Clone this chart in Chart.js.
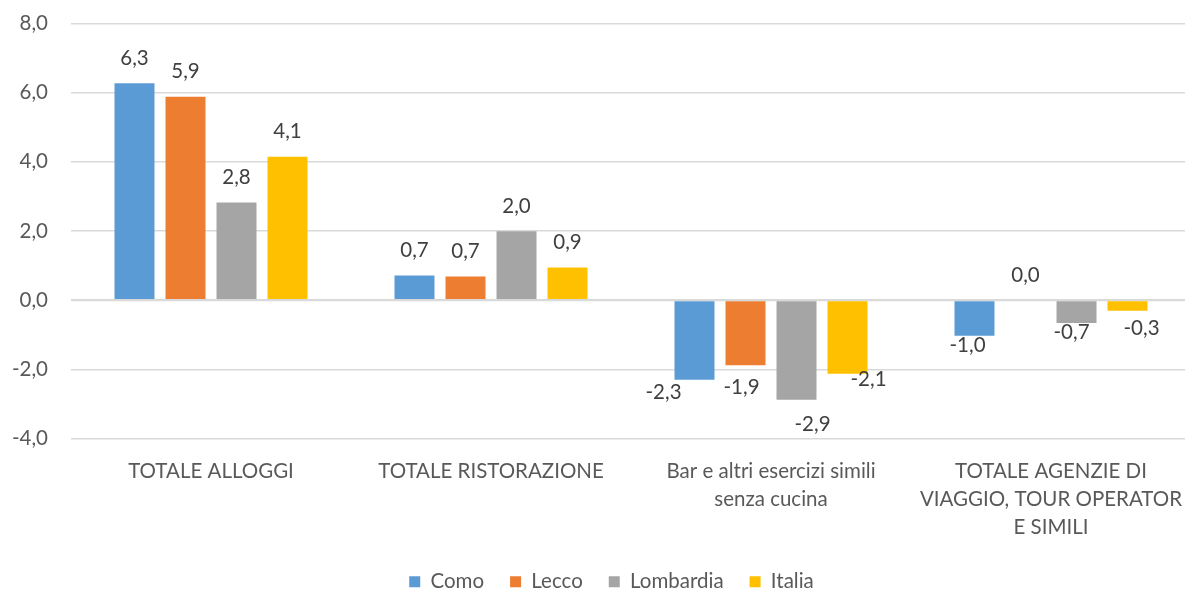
<!DOCTYPE html>
<html><head><meta charset="utf-8">
<script src="https://cdn.jsdelivr.net/npm/chart.js@4.4.1/dist/chart.umd.min.js"></script>
<style>
html,body{margin:0;padding:0;overflow:hidden;background:#fff;width:1185px;height:590px;position:relative}
#wrap{position:absolute;left:0;top:-12px;width:1222px;height:614px}
</style>
</head><body>
<div id="wrap"><canvas id="c" width="1222" height="614"></canvas></div>
<script>
const categories = [
  'TOTALE ALLOGGI',
  'TOTALE RISTORAZIONE',
  ['Bar e altri esercizi simili', 'senza cucina'],
  ['TOTALE AGENZIE DI', 'VIAGGIO, TOUR OPERATOR', 'E SIMILI']
];
const seriesNames = ['Como', 'Lecco', 'Lombardia', 'Italia'];
const como      = [6.27, 0.71, -2.30, -1.03];
const lecco     = [5.88, 0.68, -1.88, 0.00];
const lombardia = [2.82, 1.99, -2.88, -0.66];
const italia    = [4.14, 0.94, -2.13, -0.31];
const yMin = -4, yMax = 8, yStep = 2;

const colors = ['#5B9BD5', '#ED7D31', '#A5A5A5', '#FFC000'];
const FONT = 'Lato';
const FS = 20.5;
const fmt = v => v.toFixed(1).replace('.', ',');

// Excel-like label nudges (dataset,index) to avoid overlaps
const nudges = {
  '0,2': [-31, 1], '1,2': [-4, 10], '2,2': [16, 13], '3,2': [21, -6],
  '0,3': [-7, -2], '2,3': [-5, -3], '3,3': [14, 6]
};

const valueLabels = {
  id: 'valueLabels',
  afterLayout(chart) {
    // centre the legend like the original (offset from the y-axis)
    if (chart.legend) { chart.legend.left += 16; chart.legend.right += 16; }
  },
  afterDatasetsDraw(chart) {
    const ctx = chart.ctx;
    ctx.save();
    ctx.font = FS + 'px ' + FONT;
    ctx.fillStyle = '#404040';
    ctx.textAlign = 'center';
    ctx.textBaseline = 'middle';
    chart.data.datasets.forEach((ds, di) => {
      chart.getDatasetMeta(di).data.forEach((bar, i) => {
        const v = ds.data[i];
        const n = nudges[di + ',' + i] || [0, 0];
        const y = v >= 0 ? bar.y - 25 : bar.y + 12;
        ctx.fillText(fmt(v), bar.x + n[0], y + n[1]);
      });
    });
    ctx.restore();
  }
};

const seriesData = [como, lecco, lombardia, italia];
new Chart(document.getElementById('c'), {
  type: 'bar',
  data: {
    labels: categories,
    datasets: seriesNames.map((name, k) => ({
      label: name,
      data: seriesData[k],
      backgroundColor: colors[k],
      borderWidth: 0,
      barPercentage: 0.784,
      categoryPercentage: 0.7286
    }))
  },
  options: {
    responsive: false,
    animation: false,
    devicePixelRatio: 1,
    layout: { padding: { left: 0, right: 31, top: 10, bottom: 0 } },
    plugins: {
      tooltip: { enabled: false },
      legend: {
        position: 'bottom',
        labels: {
          boxWidth: 11, boxHeight: 11, padding: 26,
          color: '#595959',
          font: { family: FONT, size: FS }
        }
      }
    },
    scales: {
      x: {
        grid: { display: false, drawTicks: false, tickLength: 0 },
        border: { display: false },
        ticks: {
          color: '#595959',
          font: { family: FONT, size: FS, lineHeight: 1.38 },
          padding: 18.5, maxRotation: 0, autoSkip: false
        },
        afterFit(s) { s.height = 107; }
      },
      y: {
        min: yMin, max: yMax,
        grid: {
          color: '#D9D9D9',
          lineWidth: c => (c.tick && c.tick.value === 0 ? 2.2 : 1.5),
          drawTicks: false, tickLength: 0
        },
        border: { display: false },
        ticks: {
          stepSize: yStep,
          color: '#595959',
          font: { family: FONT, size: FS },
          padding: 23,
          callback: v => fmt(v)
        },
        afterFit(s) { s.width = 71; }
      }
    }
  },
  plugins: [valueLabels]
});
</script>
</body></html>
